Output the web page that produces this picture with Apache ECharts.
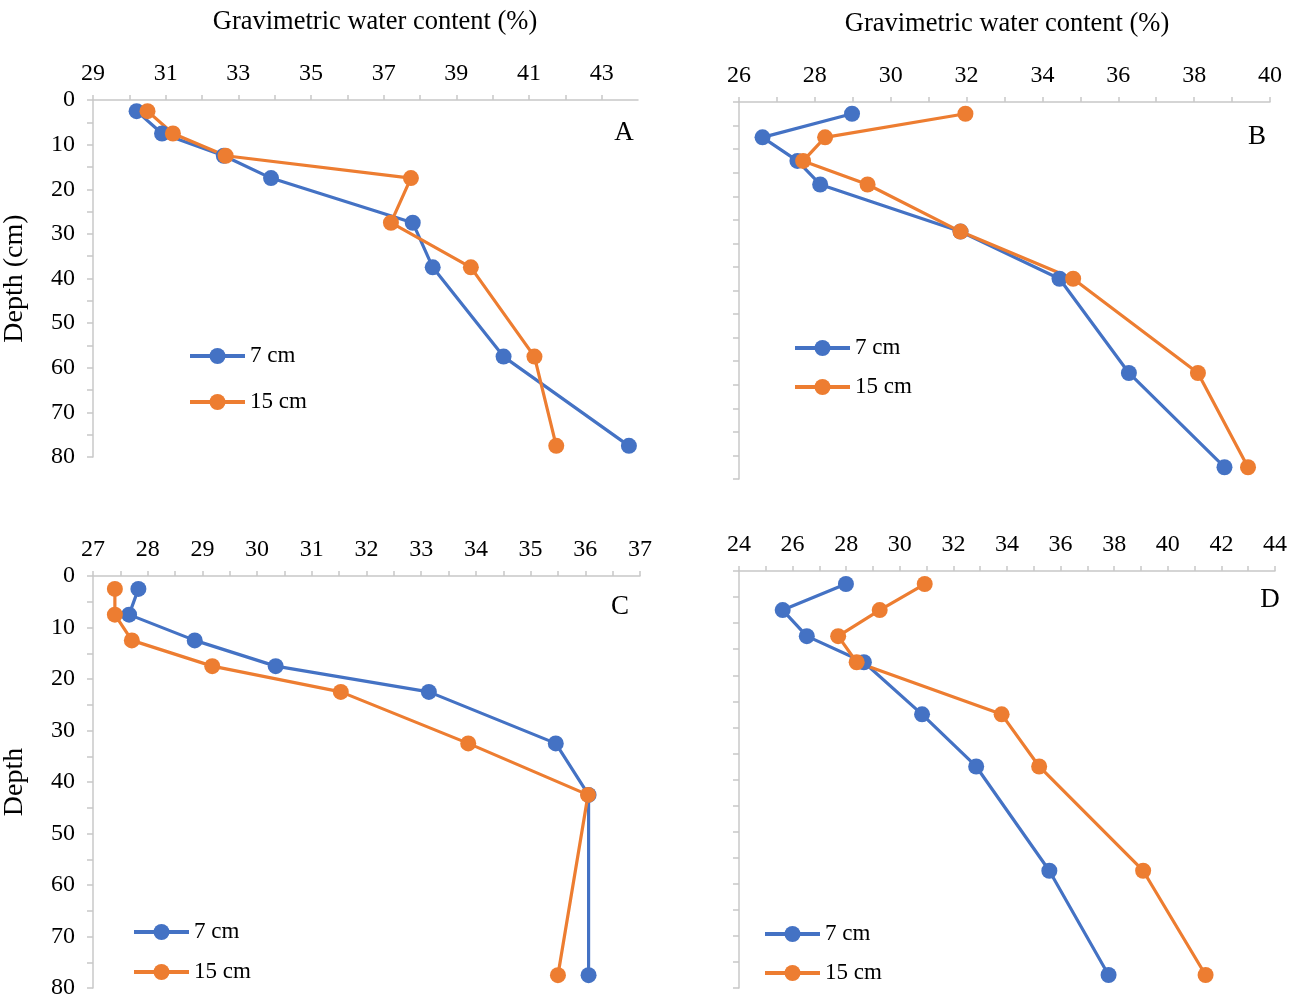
<!DOCTYPE html>
<html>
<head>
<meta charset="utf-8">
<script src="https://cdn.jsdelivr.net/npm/echarts@6/dist/echarts.min.js"></script>
<style>
html,body{margin:0;padding:0;background:#fff;}
#chart{width:1298px;height:1001px;}
</style>
</head>
<body>
<div id="chart"></div>
<script>
// ---- data ----
const seriesNames = ['7 cm', '15 cm'];
const depthsA = [2.5, 7.5, 12.5, 17.5, 27.5, 37.5, 57.5, 77.5];
const depthsB = [2.5, 7.5, 12.5, 17.5, 27.5, 37.5, 57.5, 77.5];
const depthsC = [2.5, 7.5, 12.5, 17.5, 22.5, 32.5, 42.5, 77.5];
const depthsD = [2.5, 7.5, 12.5, 17.5, 27.5, 37.5, 57.5, 77.5];

const a7  = [30.2, 30.9, 32.6, 33.9, 37.8, 38.35, 40.3, 43.75];
const a15 = [30.5, 31.2, 32.65, 37.75, 37.2, 39.4, 41.15, 41.75];
const b7  = [28.98, 26.62, 27.54, 28.14, 31.84, 34.45, 36.28, 38.8];
const b15 = [31.97, 28.27, 27.69, 29.39, 31.84, 34.81, 38.1, 39.42];
const c7  = [27.83, 27.66, 28.86, 30.34, 33.14, 35.46, 36.06, 36.06];
const c15 = [27.4, 27.4, 27.71, 29.18, 31.53, 33.86, 36.05, 35.5];
const d7  = [27.99, 25.63, 26.53, 28.66, 30.83, 32.85, 35.58, 37.79];
const d15 = [30.93, 29.25, 27.7, 28.39, 33.8, 35.2, 39.08, 41.41];

// x-axis ranges [min, max, tick interval, label step]
const xRangeA = [29, 44, 1, 2];
const xRangeB = [26, 40, 1, 2];
const xRangeC = [27, 37, 0.5, 1];
const xRangeD = [24, 44, 1, 2];
const yRange = [0, 80, 5, 10];

const xTitle = 'Gravimetric water content (%)';
const yTitleA = 'Depth (cm)';
const yTitleC = 'Depth';
const panelLetters = ['A', 'B', 'C', 'D'];

// ---- styling ----
const FONT = '"Liberation Serif", "Times New Roman", serif';
const BLUE = '#4472C4', ORANGE = '#ED7D31';
const AXIS_COLOR = '#c8c8c8';

const grids = [
  {left: 85,  top: 100, width: 553, height: 357},
  {left: 739, top: 102, width: 531, height: 377},
  {left: 84,  top: 576, width: 556, height: 412},
  {left: 739, top: 571, width: 536, height: 417}
];
const xRanges = [xRangeA, xRangeB, xRangeC, xRangeD];
const showYLabels = [true, false, true, false];
const yNames = [yTitleA, '', yTitleC, ''];

function near(v, step, base) {
  const k = (v - base) / step;
  return Math.abs(k - Math.round(k)) < 1e-6;
}

const xAxes = xRanges.map((r, i) => ({
  type: 'value', gridIndex: i, position: 'top',
  min: r[0], max: r[1], interval: r[2],
  axisLine: {show: true, lineStyle: {color: AXIS_COLOR, width: 1.5}},
  axisTick: {show: true, length: 5, lineStyle: {color: AXIS_COLOR, width: 1.5}},
  splitLine: {show: false},
  axisLabel: {
    color: '#000', fontFamily: FONT, fontSize: 24, margin: 14,
    formatter: v => (near(v, r[3], r[0]) && v < r[1] + 1e-9 && (r[3] === 1 ? Number.isInteger(v) : true)) ? String(Math.round(v)) : ''
  }
}));
xAxes.forEach((ax, i) => {
  const r = xRanges[i];
  if (!near(r[1], r[3], r[0])) ax.axisLabel.showMaxLabel = false;
});

const yAxes = grids.map((g, i) => ({
  type: 'value', gridIndex: i, inverse: true,
  min: yRange[0], max: yRange[1], interval: yRange[2],
  name: yNames[i], nameLocation: 'middle', nameRotate: 90, nameGap: 64,
  nameTextStyle: {color: '#000', fontFamily: FONT, fontSize: 28},
  axisLine: {show: true, lineStyle: {color: AXIS_COLOR, width: 1.5}},
  axisTick: {show: true, length: 6, lineStyle: {color: AXIS_COLOR, width: 1.5}},
  splitLine: {show: false},
  axisLabel: {
    show: showYLabels[i],
    color: '#000', fontFamily: FONT, fontSize: 24, margin: 18,
    formatter: v => (v % yRange[3] === 0) ? String(v) : ''
  }
}));

const panels = [
  [depthsA, a7, a15], [depthsB, b7, b15], [depthsC, c7, c15], [depthsD, d7, d15]
];
const series = [];
panels.forEach((p, i) => {
  [[p[1], BLUE, 0], [p[2], ORANGE, 1]].forEach(([vals, col, k]) => {
    series.push({
      name: seriesNames[k], type: 'line', xAxisIndex: i, yAxisIndex: i,
      data: vals.map((v, j) => [v, p[0][j]]),
      symbol: 'circle', symbolSize: 16,
      lineStyle: {color: col, width: 3.2},
      itemStyle: {color: col},
      emphasis: {disabled: true},
      animation: false
    });
  });
});

const legendPos = [
  {left: 188, top: 344, itemGap: 22},
  {left: 793, top: 336, itemGap: 15},
  {left: 132, top: 920, itemGap: 16},
  {left: 763, top: 922, itemGap: 15}
];
const legends = legendPos.map(p => ({
  orient: 'vertical', left: p.left, top: p.top, itemGap: p.itemGap,
  itemWidth: 55, itemHeight: 20, padding: 0,
  data: seriesNames.map(n => ({name: n, lineStyle: {width: 4}})),
  lineStyle: {width: 4},
  textStyle: {color: '#000', fontFamily: FONT, fontSize: 23, lineHeight: 24},
  selectedMode: false
}));

const textEl = (txt, x, y, size) => ({
  type: 'text', x: x, y: y,
  style: {text: txt, fill: '#000', font: size + 'px ' + FONT, textAlign: 'center', textVerticalAlign: 'middle'}
});

const option = {
  backgroundColor: '#fff',
  animation: false,
  grid: grids,
  xAxis: xAxes,
  yAxis: yAxes,
  legend: legends,
  series: series,
  graphic: [
    textEl(xTitle, 375, 22, 26.5),
    textEl(xTitle, 1007, 24, 26.5),
    textEl(panelLetters[0], 624, 133, 27),
    textEl(panelLetters[1], 1257, 137, 27),
    textEl(panelLetters[2], 620, 607, 27),
    textEl(panelLetters[3], 1270, 600, 27)
  ]
};

const chart = echarts.init(document.getElementById('chart'), null, {renderer: 'canvas'});
chart.setOption(option);
</script>
</body>
</html>
